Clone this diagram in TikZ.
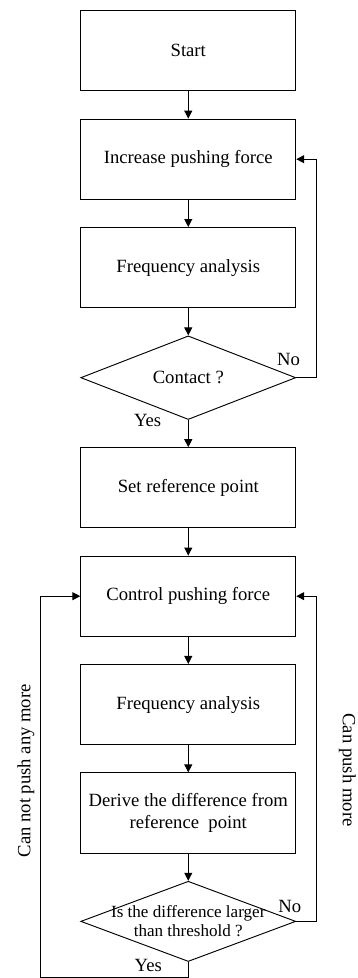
\documentclass[tikz,border=0pt]{standalone}
\usepackage{fontspec}
\setmainfont{Liberation Serif}
\usetikzlibrary{shapes.geometric,positioning,arrows.meta}

\begin{document}
\begin{tikzpicture}[node distance=20.4pt, line width=0.7pt,
  every node/.style={font=\fontsize{14}{17}\selectfont},
  box/.style={draw, rectangle, minimum width=161.25pt, minimum height=60.2pt, align=center, inner sep=0pt},
  cond/.style={draw, diamond, minimum width=161.25pt, minimum height=60.2pt, inner sep=0pt},
  arr/.style={-{Triangle[length=6pt,width=6pt]}}]
\useasboundingbox (0,0) rectangle (267.75pt,-733.5pt);
\node[box](start) at (141.2pt,-38.1pt) {Start};
\node[box, below=of start](inc) {Increase pushing force};
\node[box, below=of inc](freqa) {Frequency analysis};
\node[cond, below=of freqa](contact) {Contact ?};
\node[box, below=of contact](setref) {Set reference point};
\node[box, below=of setref](ctrl) {Control pushing force};
\node[box, below=of ctrl](freqb) {Frequency analysis};
\node[box, below=of freqb](diff) {Derive the difference from\\reference~~point};
\node[cond, below=of diff, label={[align=center, font=\fontsize{12.8}{14.5}\selectfont]center:Is the difference larger\\than threshold ?}](cmp) {};
\coordinate (back) at (30.5pt,-733pt);

\draw[arr] (start) -- (inc);
\draw[arr] (inc) -- (freqa);
\draw[arr] (freqa) -- (contact);
\draw[arr] (contact) -- (setref);
\draw[arr] (setref) -- (ctrl);
\draw[arr] (ctrl) -- (freqb);
\draw[arr] (freqb) -- (diff);
\draw[arr] (diff) -- (cmp);
\draw[arr] (contact.east) -- ++(15pt,0) |- (inc.east);
\draw[arr] (cmp.east) -- ++(15pt,0) |- (ctrl.east);
\draw[arr] (cmp.south) |- (back) |- (ctrl.west);

\node(no1) at ([shift={(-5.8pt,13.7pt)}]contact.east) {No};
\node(yes1) at ([shift={(-30.5pt,-0.75pt)}]contact.south) {Yes};
\node(no2) at ([shift={(-4.8pt,11.5pt)}]cmp.east) {No};
\node(yes2) at ([shift={(-30pt,-2.25pt)}]cmp.south) {Yes};
\node[rotate=90](cannot) at (19.5pt,-578.1pt) {Can not push any more};
\node[rotate=-90](canpush) at (260.6pt,-577.5pt) {Can push more};
\end{tikzpicture}
\end{document}
